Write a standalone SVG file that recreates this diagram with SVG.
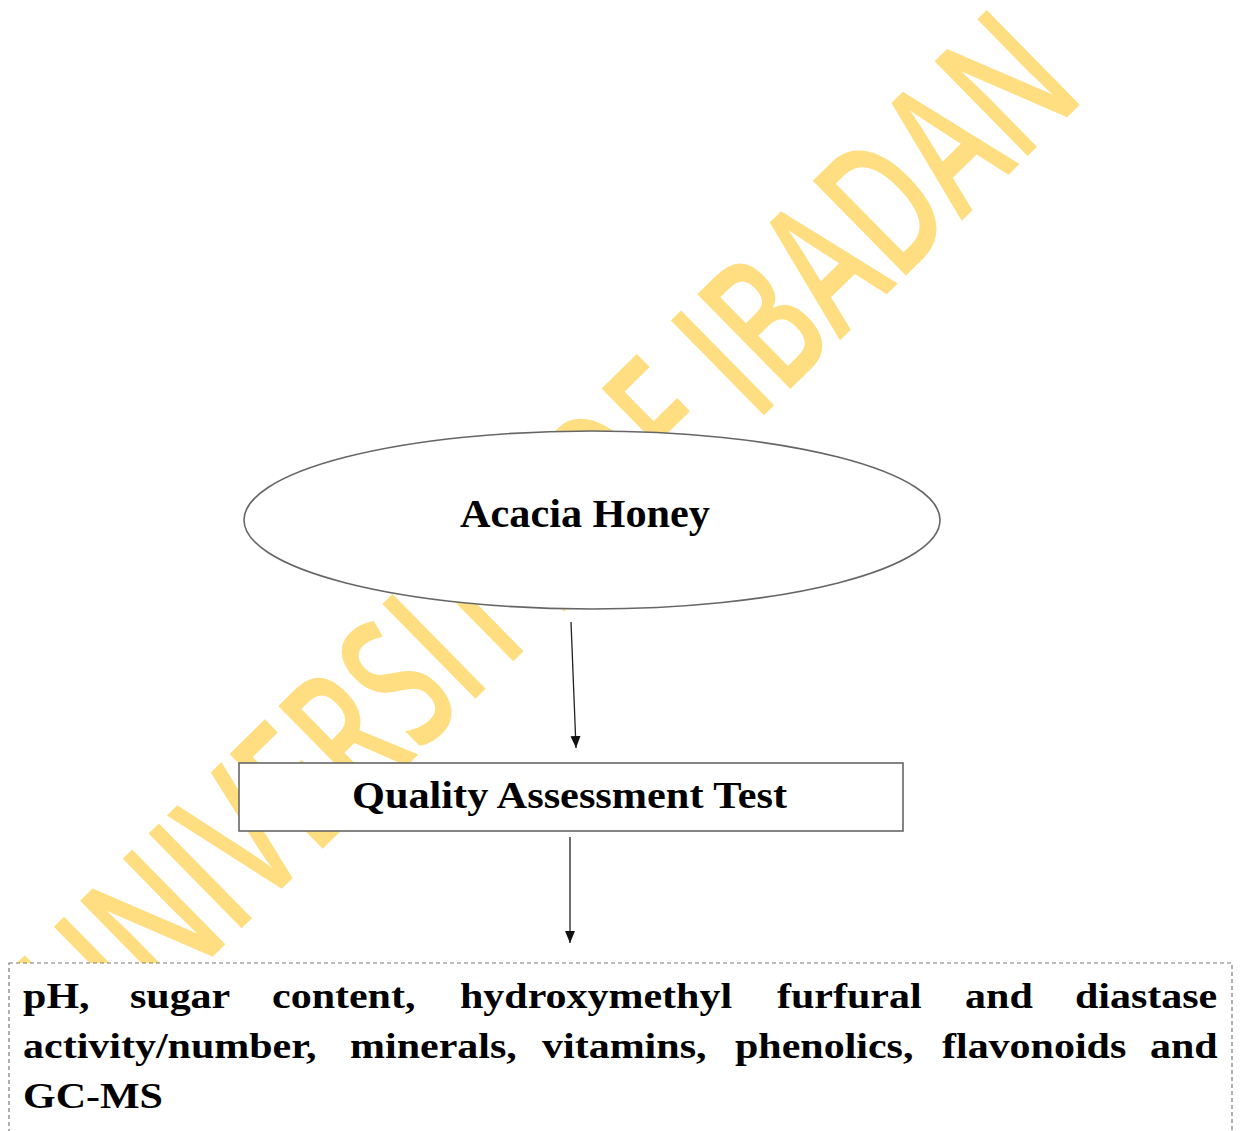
<svg xmlns="http://www.w3.org/2000/svg" width="1243" height="1131" viewBox="0 0 1243 1131">
  <style>
    .label { font-family: "Liberation Serif", "Times New Roman", serif; font-weight: bold; fill: #000; }
    .node-shape { fill: #fff; stroke: #666; stroke-width: 1.6; }
    .connector { stroke: #222; stroke-width: 1.3; fill: none; }
    .watermark { font-family: "Open Sans", "DejaVu Sans", sans-serif; font-weight: 600; fill: #FFDE82; }
  </style>
  <defs>
    <marker id="arrowhead" markerUnits="userSpaceOnUse" markerWidth="12" markerHeight="12" viewBox="0 0 12 12" refX="12" refY="6" orient="auto">
      <path d="M0,1 L12,6 L0,11 Z" fill="#111"/>
    </marker>
  </defs>

  <rect width="1243" height="1131" fill="#fff"/>

  <!-- diagonal watermark behind the chart -->
  <text class="watermark" transform="translate(594 582) rotate(-44.5)" text-anchor="middle" font-size="186" textLength="1385" lengthAdjust="spacingAndGlyphs">UNIVERSITY OF IBADAN</text>

  <!-- connectors -->
  <g id="connectors">
    <line class="connector" x1="571" y1="622" x2="576" y2="748" marker-end="url(#arrowhead)"/>
    <line class="connector" x1="570" y1="837" x2="570" y2="943" marker-end="url(#arrowhead)"/>
  </g>

  <!-- source node -->
  <g id="node-acacia-honey">
    <ellipse class="node-shape" cx="592" cy="520" rx="348" ry="89" stroke="#555" stroke-width="1.4"/>
    <text class="label" x="460" y="527" font-size="40" textLength="250" lengthAdjust="spacingAndGlyphs">Acacia Honey</text>
  </g>

  <!-- assessment step -->
  <g id="node-quality-assessment">
    <rect class="node-shape" x="239" y="763" width="664" height="68"/>
    <text class="label" x="352" y="808" font-size="38" textLength="435" lengthAdjust="spacingAndGlyphs">Quality Assessment Test</text>
  </g>

  <!-- list of parameters tested -->
  <g id="node-parameters">
    <rect x="9" y="963" width="1223" height="220" fill="#fff" stroke="#7a7a7a" stroke-width="1.2" stroke-dasharray="4 3"/>
    <g transform="scale(1.2 1)">
      <text class="label" y="1008" font-size="35"><tspan x="19.2">pH,</tspan><tspan x="108.3">sugar</tspan><tspan x="226.7">content,</tspan><tspan x="383.3">hydroxymethyl</tspan><tspan x="647.5">furfural</tspan><tspan x="804.2">and</tspan><tspan x="895.8">diastase</tspan></text>
      <text class="label" y="1058" font-size="35"><tspan x="19.2">activity/number,</tspan><tspan x="291.7">minerals,</tspan><tspan x="451.7">vitamins,</tspan><tspan x="612.5">phenolics,</tspan><tspan x="785">flavonoids</tspan><tspan x="958.3">and</tspan></text>
      <text class="label" y="1108" font-size="35"><tspan x="19.2">GC-MS</tspan></text>
    </g>
  </g>
</svg>
